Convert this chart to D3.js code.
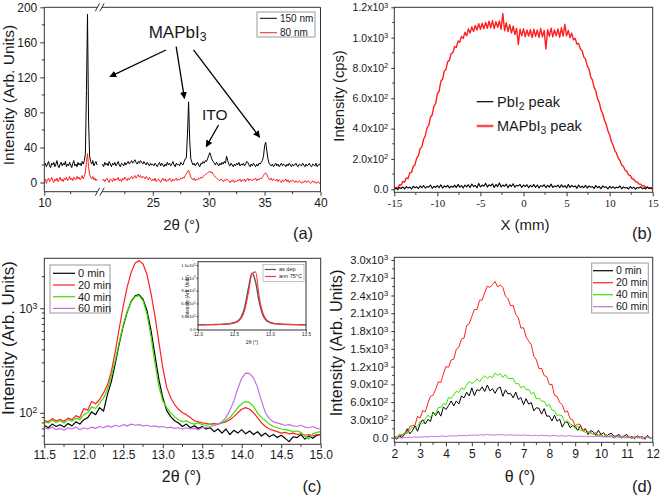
<!DOCTYPE html>
<html>
<head>
<meta charset="utf-8">
<script src="https://cdn.jsdelivr.net/npm/d3@7/dist/d3.min.js"></script>
<style>
html,body{margin:0;padding:0;background:#fff;}
svg{display:block;}
</style>
</head>
<body>
<svg id="chart" width="661" height="501"></svg>
<script>
// ================= DATA =================
// (a) XRD patterns; 2θ grid: left part 10–15, right part 20.5–40, step 0.1
const aLeftStart = 10, aRightStart = 20.5, aStep = 0.1;
const a150Left = [19,22,18,21,24, 19,17,22,20,23, 18,21,25,19,17, 21,23,19,22,20, 24,18,21,19,23, 20,17,22,25,19, 21,18,23,20,22, 19,24,21,25,33, 105,192,70,30,24, 21,25,19,22,24, 20];
const a80Left  = [2,4,-1,3,5, 1,3,6,2,0, 4,2,5,1,3, 6,2,4,1,5, 3,6,2,4,7, 3,5,2,6,4, 3,7,4,6,3, 5,8,4,7,12, 24,33,18,9,6, 4,7,3,5,2, 4];
const a150Right = [21,18,23,20,22,19,24,21,18,22,20,23,19,21,24,20,18,22,21,19,23,20,22,24,21,
  23,25,22,24,26,23,21,24,22,25,23,21,24,22,20,23,21,19,22,20,
  21,19,22,20,18,21,23,19,22,20,18,21,19,23,20,22,19,21,24,20,18,22,20,21,19,23,21,20,24,27,
  28,55,92,48,27,23,20,22,19,21,
  23,20,18,22,21,24,22,25,24,27,
  31,34,30,26,24,22,20,23,21,19,
  22,20,23,21,24,22,30,25,21,19,
  22,20,18,21,19,22,20,23,19,21,
  20,22,19,21,24,23,20,18,21,19,
  22,20,18,21,19,22,21,23,25,30,
  42,46,36,27,22,20,19,21,18,20,
  22,19,21,18,20,22,19,21,20,18,
  21,19,22,20,18,21,19,20,22,19,
  18,21,20,19,22,20,18,21,19,20,
  22,19,18,21,20,19,22,18,20,21,19];
const a80Right = [2,4,1,3,5,2,0,4,3,1,5,2,4,3,6,2,4,1,5,3,6,4,2,5,3,
  5,7,4,6,8,5,7,9,6,8,5,7,6,4,7,5,3,6,4,2,
  4,2,5,1,3,4,2,0,3,5,2,4,1,3,2,5,3,1,4,2,3,5,2,4,3,5,4,6,5,8,
  10,12,14,10,6,4,3,5,2,4,
  3,5,4,6,5,7,8,9,10,11,
  12,13,11,12,9,8,6,5,4,3,
  2,4,3,1,3,2,4,3,2,0,
  2,1,3,0,2,1,3,2,4,1,
  3,2,4,1,3,5,2,4,3,2,
  4,3,5,2,4,3,5,4,6,8,
  10,11,9,6,4,3,5,2,4,3,
  2,4,1,3,2,0,3,1,2,4,
  1,3,0,2,1,3,2,0,2,1,
  0,2,1,-1,1,0,2,1,0,2,
  1,-1,0,2,0,1,-1,0,1,-1,0];
const aYTicks = [0, 40, 80, 120, 160, 200];
const aXTicks = [10, 25, 30, 35, 40];
const aXLabels = ["10", "25", "30", "35", "40"];
const aLegend = ["150 nm", "80 nm"];
// annotation arrows in data units [x1,y1,x2,y2]
const aArrows = [[26.17,151.3,21.17,120.8],[27.09,155,27.83,96.1],[28.64,151.3,34.56,51.6]];
const aItoArrow = [30.88,65.6,29.78,40.9];

// (b) intensity vs X position; X grid -15..15 step 0.2
const bStart = -15, bStep = 0.2;
const bMAPbI3 = [0,12,8,30,28,52,48,75,70,108,112,150,162,205,222,268,280,330,352,405,420,475,490,548,565,630,645,712,725,780,
  790,842,850,895,900,940,935,978,970,1008,995,1035,1012,1058,1030,1070,1040,1080,1050,1092,1055,1095,1058,1100,1062,1108,1065,1112,1060,1105,
  1068,1110,1055,1160,1045,1098,1040,1085,1030,1075,1020,1060,955,1055,1012,1058,1005,1050,1010,1052,1000,1055,1008,1050,1002,1060,1005,1048,925,1052,
  1008,1062,1005,1050,1012,1058,1002,1065,1010,1088,1012,1048,1000,1030,985,995,958,962,925,915,872,860,812,795,742,720,672,648,595,572,
  522,498,455,428,385,358,315,292,255,238,205,190,160,150,125,118,95,90,70,66,50,48,35,34,22,24,12,15,4,8,0];
const bPbI2 = [0,8,-2,12,5,15,3,18,8,14,2,20,9,16,5,22,
  10,25,8,18,14,28,6,20,12,24,10,30,8,22,15,26,9,20,13,27,
  11,32,14,24,8,28,16,30,12,35,18,26,10,38,15,28,20,40,14,30,
  22,36,12,32,18,42,15,28,20,34,10,30,18,36,14,26,22,32,12,28,
  18,30,10,26,16,32,12,28,8,24,18,30,10,26,14,34,12,22,16,28,
  10,30,14,24,8,32,12,26,16,22,6,28,12,20,10,26,8,22,14,18,
  6,24,10,18,4,22,12,16,2,20,8,18,5,14,10,22,3,16,8,12,
  2,18,6,14,0,12,8,16,4,10,2,14,6,10,4];
const bYTicks = [0, 200, 400, 600, 800, 1000, 1200];
const bYLabels = ["0.0", "2.0x10^2", "4.0x10^2", "6.0x10^2", "8.0x10^2", "1.0x10^3", "1.2x10^3"];
const bXTicks = [-15, -10, -5, 0, 5, 10, 15];

// (c) log-scale XRD around 12.7°, 2θ grid 11.5..15 step 0.05
const cStart = 11.5, cStep = 0.05;
const c0  = [76,72,78,74,77,73,79,75,82,78, 86,90,102,96,112,104,150,200,300,460, 680,920,1160,1310,1350,1220,950,620,360,210, 140,105,92,84,80,74,78,72,75,71, 74,70,72,66,70,64,70,62,68,64, 69,63,67,62,66,60,64,59,62,58, 61,57,53,59,58,62,56,60,57,61, 62];
const c20 = [85,82,88,84,86,83,89,86,94,90, 110,106,128,122,134,155,185,250,390,650, 1050,1600,2200,2700,2850,2650,2100,1400,850,480, 270,175,140,120,108,100,96,90,84,82, 80,79,78,79,78,80,82,86,92,100, 108,112,108,100,90,80,74,70,68,66, 64,65,63,64,62,63,61,62,60,62, 61];
const c40 = [82,80,85,81,84,80,86,83,89,86, 96,100,114,110,124,138,168,225,320,480, 700,930,1150,1290,1320,1180,880,540,300,180, 130,112,100,92,86,82,84,80,78,80, 77,76,78,76,78,80,85,90,100,112, 122,128,125,115,100,90,84,78,74,72, 70,69,68,66,67,65,60,56,63,65, 66];
const c60 = [72,70,73,69,71,68,72,70,73,69, 72,70,73,71,74,72,75,73,76,74, 77,75,78,76,77,75,76,74,75,73, 74,72,73,71,72,70,72,70,71,69, 72,73,74,76,78,82,90,105,130,170, 215,240,238,215,175,130,100,88,82,80, 78,76,77,75,74,76,73,72,74,71, 70];
const cXTicks = [11.5, 12.0, 12.5, 13.0, 13.5, 14.0, 14.5, 15.0];
const cXLabels = ["11.5", "12.0", "12.5", "13.0", "13.5", "14.0", "14.5", "15.0"];
const cYTicks = [100, 1000];
const cYLabels = ["10^2", "10^3"];
const cYMinor = [60, 70, 80, 90, 200, 300, 400, 500, 600, 700, 800, 900, 2000];
const timeLabels = ["0  min", "20 min", "40 min", "60 min"];

// (c) inset, 2θ grid 12.0..13.5 step 0.05
const iStart = 12.0, iStep = 0.05;
const iAsDep = [98,99,100,101,102,104,106,110,116,126,145,185,280,520,950,1310,1100,640,330,200,150,128,118,112,108,105,103,101,100,99,98];
const iAnn   = [98,99,100,101,102,103,105,108,113,122,138,170,250,450,850,1300,1340,760,380,220,160,132,120,113,109,106,104,102,100,99,98];
const iXTicks = [12.0, 12.5, 13.0, 13.5];
const iXLabels = ["12.0", "12.5", "13.0", "13.5"];
const iYTicks = [0, 300, 600, 900, 1200, 1500];
const iYLabels = ["0.0", "3.0x10^2", "6.0x10^2", "9.0x10^2", "1.2x10^3", "1.5x10^3"];
const iLegend = ["as dep", "ann 75°C"];

// (d) intensity vs θ, grid 2..12 step 0.1
const dStart = 2, dStep = 0.1;
const d0  = [5,-26,30,2,57,150,64,116,200,109, 234,304,230,308,274,432,372,448,364,520, 476,544,620,536,620,568,704,672,768,704, 840,710,812,792,858,780,890,790,826,749, 832,854,698,806,737,748,672,770,644,677, 558,658,566,594,454,506,496,398,492,362, 368,282,380,278,312,178,258,266,170,202, 188,122,200,122,152,50,121,97,48,124, 53,84,18,57,75,22,30,55,-2,33, 53,-2,22,-19,33,3,23,-27,39,-5, 9];
const d20 = [8,-5,42,35,82,85,184,206,208,360, 332,456,436,582,698,716,814,942,932,1078, 1200,1190,1312,1326,1496,1528,1664,1680,1894,1922, 2046,2162,2164,2320,2322,2452,2560,2536,2584,2636, 2546,2578,2538,2390,2346,2228,2234,2078,2024,1850, 1856,1702,1632,1568,1374,1316,1166,1170,1048,1032, 896,900,712,698,594,556,430,454,322,302, 198,229,223,105,140,95,87,57,84,42, 53,16,50,24,36,-3,19,21,-3,32, -3,6,-15,23,-3,14,-21,9,15,-10, 5];
const d40 = [22,16,62,50,84,72,124,181,157,203, 271,236,318,381,345,409,399,507,511,578, 555,680,664,720,785,763,842,814,887,950, 912,943,992,941,1010,1046,1000,1037,1011,1092, 1051,1080,1015,1067,1001,999,1001,911,914,840, 872,809,817,736,767,654,669,617,615,531, 560,468,453,374,386,366,255,292,231,214, 153,200,122,134,81,102,70,72,33,43, 38,16,42,12,16,-4,25,4,17,-12, 11,17,-4,8,9,-9,20,-2,11,-19, 8];
const d60 = [1,-8,-1,-7,6,1,11,3,16,3, 13,11,19,11,24,16,22,15,26,30, 18,31,27,31,27,40,32,38,31,45, 40,47,38,47,50,44,56,46,49,42, 54,45,51,39,47,49,41,45,44,36, 48,38,43,30,41,38,30,43,33,39, 26,34,38,28,29,35,23,30,35,22, 28,18,29,21,26,14,28,18,21,25, 13,21,11,18,23,11,13,18,5,13, 17,6,10,2,15,5,9,-3,10,2, 5];
const dXTicks = [2, 3, 4, 5, 6, 7, 8, 9, 10, 11, 12];
const dYTicks = [0, 300, 600, 900, 1200, 1500, 1800, 2100, 2400, 2700, 3000];
const dYLabels = ["0.0", "3.0x10^2", "6.0x10^2", "9.0x10^2", "1.2x10^3", "1.5x10^3", "1.8x10^3", "2.1x10^3", "2.4x10^3", "2.7x10^3", "3.0x10^3"];

// ================= DRAWING =================
const FONT = '"Liberation Sans", Arial, Helvetica, sans-serif';
const SERIF = '"Liberation Serif", "Times New Roman", serif';
const AX = '#333';
const TXT = '#1a1a1a';
const RED = '#ff1f1f', GREEN = '#3ee000', PURPLE = '#c66ee0', BLACK = '#000';
const svg = d3.select('#chart');
const toPts = (vals, start, step) => vals.map((v, i) => [start + i * step, v]);

function clip(id, x0, y0, x1, y1) {
  svg.append('clipPath').attr('id', id).append('rect')
    .attr('x', x0).attr('y', y0).attr('width', x1 - x0).attr('height', y1 - y0);
}
function drawLine(pts, x, y, color, width, clipId, curve) {
  const line = d3.line().x(d => x(d[0])).y(d => y(d[1]));
  if (curve) line.curve(curve);
  svg.append('path').datum(pts).attr('d', line).attr('fill', 'none')
    .attr('stroke', color).attr('stroke-width', width).attr('stroke-linejoin', 'round')
    .attr('clip-path', `url(#${clipId})`);
}
function sup(g) {
  g.selectAll('text').each(function () {
    const t = d3.select(this); const s = t.text(); const k = s.indexOf('^');
    if (k < 0) return;
    t.text(null);
    t.append('tspan').text(s.slice(0, k));
    t.append('tspan').attr('dy', '-0.45em').attr('font-size', '0.72em').text(s.slice(k + 1));
  });
}
function xAxis(scale, ticks, labels, y, size, family, len, pad) {
  const g = svg.append('g').attr('transform', `translate(0,${y})`)
    .call(d3.axisBottom(scale).tickValues(ticks).tickFormat((d, i) => labels[i])
      .tickSize(len).tickSizeOuter(0).tickPadding(pad));
  g.select('.domain').remove();
  g.selectAll('line').attr('stroke', AX);
  g.selectAll('text').attr('font-size', size).attr('font-family', family).attr('fill', TXT);
  sup(g); return g;
}
function yAxis(scale, ticks, labels, x, size, family, len, pad) {
  const g = svg.append('g').attr('transform', `translate(${x},0)`)
    .call(d3.axisLeft(scale).tickValues(ticks).tickFormat((d, i) => labels[i])
      .tickSize(len).tickSizeOuter(0).tickPadding(pad));
  g.select('.domain').remove();
  g.selectAll('line').attr('stroke', AX);
  g.selectAll('text').attr('font-size', size).attr('font-family', family).attr('fill', TXT);
  sup(g); return g;
}
function minorX(scale, vals, y, len) {
  svg.append('g').selectAll('line').data(vals).join('line')
    .attr('x1', d => scale(d)).attr('x2', d => scale(d)).attr('y1', y).attr('y2', y + len)
    .attr('stroke', AX);
}
function minorY(scale, vals, x, len) {
  svg.append('g').selectAll('line').data(vals).join('line')
    .attr('y1', d => scale(d)).attr('y2', d => scale(d)).attr('x1', x).attr('x2', x - len)
    .attr('stroke', AX);
}
function frame(x0, y0, x1, y1) {
  svg.append('rect').attr('x', x0).attr('y', y0).attr('width', x1 - x0).attr('height', y1 - y0)
    .attr('fill', 'none').attr('stroke', AX).attr('stroke-width', 1);
}
function label(x, y, str, size, anchor = 'middle', family = FONT) {
  return svg.append('text').attr('x', x).attr('y', y).attr('text-anchor', anchor)
    .attr('font-family', family).attr('font-size', size).attr('fill', TXT).text(str);
}
function vlabel(x, y, str, size) {
  return svg.append('text').attr('transform', `translate(${x},${y}) rotate(-90)`)
    .attr('text-anchor', 'middle').attr('font-family', FONT).attr('font-size', size)
    .attr('fill', TXT).text(str);
}
function subText(x, y, parts, size, anchor = 'start') {
  const t = svg.append('text').attr('x', x).attr('y', y).attr('text-anchor', anchor)
    .attr('font-family', FONT).attr('font-size', size).attr('fill', TXT);
  parts.forEach(p => {
    if (p.sub) t.append('tspan').attr('dy', '0.28em').attr('font-size', '0.72em').text(p.t);
    else t.append('tspan').attr('dy', p.back ? '-0.2em' : null).text(p.t);
  });
  return t;
}
function legendRows(x0, y0, dy, lineLen, items, size, lw) {
  items.forEach((it, i) => {
    const y = y0 + i * dy;
    svg.append('line').attr('x1', x0).attr('x2', x0 + lineLen).attr('y1', y).attr('y2', y)
      .attr('stroke', it.c).attr('stroke-width', lw);
    label(x0 + lineLen + 3, y + size * 0.36, it.t, size, 'start');
  });
}

// ---------- Panel (a) ----------
const axL = 44.3, axR = 320.5, ayT = 7.3, ayB = 191.7;
const xa = d3.scaleLinear().domain([10, 15, 20.5, 40]).range([axL, 97, 102.5, axR]);
const ya = d3.scaleLinear().domain([-10.5, 200]).range([ayB, ayT]);
clip('clipA', axL, ayT, axR, ayB);
drawLine(toPts(a150Left, aLeftStart, aStep), xa, ya, BLACK, 1, 'clipA');
drawLine(toPts(a150Right, aRightStart, aStep), xa, ya, BLACK, 1, 'clipA');
drawLine(toPts(a80Left, aLeftStart, aStep), xa, ya, RED, 1, 'clipA');
drawLine(toPts(a80Right, aRightStart, aStep), xa, ya, RED, 1, 'clipA');
// broken frame
const bx1 = xa(15) + 0.5, bx2 = xa(20.5) - 0.5;
[[axL, ayT, axL, ayB], [axR, ayT, axR, ayB], [axL, ayT, bx1, ayT], [bx2, ayT, axR, ayT],
 [axL, ayB, bx1, ayB], [bx2, ayB, axR, ayB]].forEach(s =>
  svg.append('line').attr('x1', s[0]).attr('y1', s[1]).attr('x2', s[2]).attr('y2', s[3]).attr('stroke', AX));
[ayT, ayB].forEach(yy => [bx1, bx2].forEach(xx =>
  svg.append('line').attr('x1', xx - 2.2).attr('y1', yy + 4).attr('x2', xx + 2.2).attr('y2', yy - 4)
    .attr('stroke', AX).attr('stroke-width', 1)));
xAxis(xa, aXTicks, aXLabels, ayB, 12, FONT, 4, 3);
minorX(xa, [12.5, 22.5, 27.5, 32.5, 37.5], ayB, 2.5);
yAxis(ya, aYTicks, aYTicks.map(String), axL, 12, FONT, 4, 3);
minorY(ya, [20, 60, 100, 140, 180], axL, 2.5);
vlabel(14, 95, 'Intensity (Arb. Units)', 15.5);
label(181.7, 230, '2θ (°)', 15);
label(303, 239, '(a)', 16.5);
// legend (a)
svg.append('rect').attr('x', 257).attr('y', 12).attr('width', 58).attr('height', 25)
  .attr('fill', '#fff').attr('stroke', '#999');
legendRows(260, 18.3, 14.4, 17, [{ t: aLegend[0], c: BLACK }, { t: aLegend[1], c: RED }], 10, 1);
// annotations
const defs = svg.append('defs');
defs.append('marker').attr('id', 'arrow').attr('viewBox', '0 0 10 10').attr('refX', 9).attr('refY', 5)
  .attr('markerWidth', 7).attr('markerHeight', 7).attr('markerUnits', 'userSpaceOnUse').attr('orient', 'auto')
  .append('path').attr('d', 'M0,0 L10,5 L0,10 z').attr('fill', '#000');
aArrows.concat([aItoArrow]).forEach(a =>
  svg.append('line').attr('x1', xa(a[0])).attr('y1', ya(a[1])).attr('x2', xa(a[2])).attr('y2', ya(a[3]))
    .attr('stroke', '#000').attr('stroke-width', 1.3).attr('marker-end', 'url(#arrow)'));
subText(xa(27.22), ya(165), [{ t: 'MAPbI' }, { t: '3', sub: true }], 17, 'middle');
label(xa(30.55), ya(71.3), 'ITO', 15.5);

// ---------- Panel (b) ----------
const bxL = 394.3, bxR = 652.7, byT = 7.3, byB = 192.3;
const xb = d3.scaleLinear().domain([-15, 15]).range([bxL, bxR]);
const yb = d3.scaleLinear().domain([-20, 1200]).range([byB, byT]);
clip('clipB', bxL, byT, bxR, byB);
drawLine(toPts(bMAPbI3, bStart, bStep), xb, yb, RED, 1.4, 'clipB');
drawLine(toPts(bPbI2, bStart, bStep), xb, yb, BLACK, 1.1, 'clipB');
frame(bxL, byT, bxR, byB);
xAxis(xb, bXTicks, bXTicks.map(String), byB, 11, SERIF, 4, 3);
minorX(xb, [-12.5, -7.5, -2.5, 2.5, 7.5, 12.5], byB, 2.5);
yAxis(yb, bYTicks, bYLabels, bxL, 10.5, FONT, 3, 3);
minorY(yb, [100, 300, 500, 700, 900, 1100], bxL, 2);
vlabel(343.5, 96, 'Intensity (cps)', 14.7);
label(525, 230, 'X (mm)', 15);
label(642, 239, '(b)', 16.5);
svg.append('line').attr('x1', 476.7).attr('x2', 493.3).attr('y1', 101.7).attr('y2', 101.7).attr('stroke', BLACK).attr('stroke-width', 1.2);
subText(497, 106.8, [{ t: 'PbI' }, { t: '2', sub: true }, { t: ' peak', back: true }], 14.5);
svg.append('line').attr('x1', 476.7).attr('x2', 493.3).attr('y1', 126).attr('y2', 126).attr('stroke', '#ff4d4d').attr('stroke-width', 2.5);
subText(497, 131.2, [{ t: 'MAPbI' }, { t: '3', sub: true }, { t: ' peak', back: true }], 14.5);

// ---------- Panel (c) ----------
const cxL = 44.3, cxR = 320.7, cyT = 258.3, cyB = 444.3;
const xc = d3.scaleLinear().domain([11.5, 15]).range([cxL, cxR]);
const yc = d3.scaleLog().domain([50, 3000]).range([cyB, cyT]);
clip('clipC', cxL, cyT, cxR, cyB);
drawLine(toPts(c0, cStart, cStep), xc, yc, BLACK, 1.2, 'clipC');
drawLine(toPts(c20, cStart, cStep), xc, yc, RED, 1.2, 'clipC');
drawLine(toPts(c40, cStart, cStep), xc, yc, GREEN, 1.2, 'clipC');
drawLine(toPts(c60, cStart, cStep), xc, yc, PURPLE, 1.2, 'clipC');
frame(cxL, cyT, cxR, cyB);
xAxis(xc, cXTicks, cXLabels, cyB, 12, FONT, 4, 2.5);
minorX(xc, [11.75, 12.25, 12.75, 13.25, 13.75, 14.25, 14.75], cyB, 2.5);
yAxis(yc, cYTicks, cYLabels, cxL, 12, FONT, 4, 3);
minorY(yc, cYMinor, cxL, 2.5);
vlabel(14, 338, 'Intensity (Arb. Units)', 17);
label(181.5, 482, '2θ (°)', 16);
label(312, 492, '(c)', 16.5);
svg.append('rect').attr('x', 50).attr('y', 265).attr('width', 60).attr('height', 48)
  .attr('fill', '#fff').attr('stroke', '#999');
legendRows(53, 273.3, 11.7, 22, [{ t: timeLabels[0], c: BLACK }, { t: timeLabels[1], c: RED },
  { t: timeLabels[2], c: GREEN }, { t: timeLabels[3], c: PURPLE }], 11, 1.2);

// inset
const ixL = 198, ixR = 306, iyT = 261.7, iyB = 330;
const xi = d3.scaleLinear().domain([12, 13.5]).range([ixL, ixR]);
const yi = d3.scaleLinear().domain([-25, 1580]).range([iyB, iyT]);
svg.append('rect').attr('x', ixL).attr('y', iyT).attr('width', ixR - ixL).attr('height', iyB - iyT).attr('fill', '#fff');
clip('clipI', ixL, iyT, ixR, iyB);
drawLine(toPts(iAsDep, iStart, iStep), xi, yi, '#555', 1.4, 'clipI', d3.curveMonotoneX);
drawLine(toPts(iAnn, iStart, iStep), xi, yi, '#ff3333', 1.1, 'clipI', d3.curveMonotoneX);
frame(ixL, iyT, ixR, iyB);
xAxis(xi, iXTicks, iXLabels, iyB, 4.6, FONT, 1.5, 1.5);
yAxis(yi, iYTicks, iYLabels, ixL, 4.2, FONT, 1.5, 1);
vlabel(189, 296, 'Intensity (Arb. Units)', 4.6);
label(252, 343.5, '2θ (°)', 5);
svg.append('rect').attr('x', 263).attr('y', 264.5).attr('width', 41).attr('height', 17)
  .attr('fill', '#fff').attr('stroke', '#999').attr('stroke-width', 0.6);
legendRows(265, 269.5, 7, 11, [{ t: iLegend[0], c: '#555' }, { t: iLegend[1], c: '#ff3333' }], 5.5, 1.2);

// ---------- Panel (d) ----------
const dxL = 394.3, dxR = 652.7, dyT = 257.3, dyB = 442.3;
const xd = d3.scaleLinear().domain([2, 12]).range([dxL, dxR]);
const yd = d3.scaleLinear().domain([-78, 3045]).range([dyB, dyT]);
clip('clipD', dxL, dyT, dxR, dyB);
drawLine(toPts(d0, dStart, dStep), xd, yd, BLACK, 1, 'clipD');
drawLine(toPts(d20, dStart, dStep), xd, yd, RED, 1, 'clipD');
drawLine(toPts(d40, dStart, dStep), xd, yd, GREEN, 1, 'clipD');
drawLine(toPts(d60, dStart, dStep), xd, yd, PURPLE, 1, 'clipD');
frame(dxL, dyT, dxR, dyB);
xAxis(xd, dXTicks, dXTicks.map(String), dyB, 12, FONT, 4, 3);
minorX(xd, dXTicks.slice(0, -1).map(v => v + 0.5), dyB, 2.5);
yAxis(yd, dYTicks, dYLabels, dxL, 11.2, FONT, 3, 3);
minorY(yd, dYTicks.slice(0, -1).map(v => v + 150), dxL, 2);
vlabel(342, 343, 'Intensity (Arb. Units)', 16.2);
label(520, 482, 'θ (°)', 16);
label(642, 492, '(d)', 16.5);
svg.append('rect').attr('x', 591.7).attr('y', 263).attr('width', 56.6).attr('height', 50)
  .attr('fill', '#fff').attr('stroke', '#999');
legendRows(593, 270.7, 12, 20, [{ t: timeLabels[0], c: BLACK }, { t: timeLabels[1], c: RED },
  { t: timeLabels[2], c: GREEN }, { t: timeLabels[3], c: PURPLE }], 10.5, 1.2);
</script>
</body>
</html>
